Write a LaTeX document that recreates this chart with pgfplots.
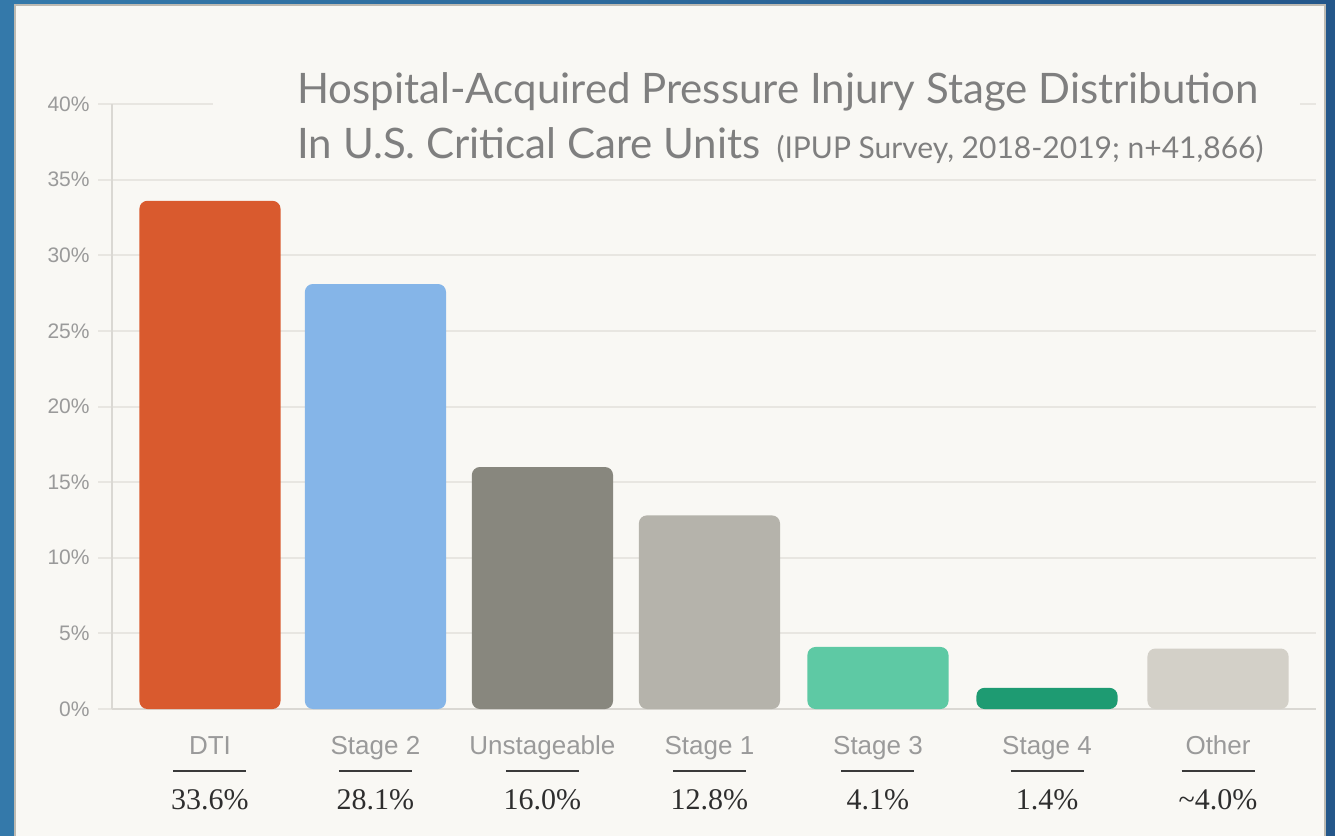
\documentclass[border=0pt]{standalone}
\usepackage{pgfplots}
\pgfplotsset{compat=1.18}
\usepackage{fontspec}
\setmainfont{Liberation Serif}
\newfontfamily\sansf{Liberation Sans}
\newfontfamily\titlef{Lato}
\definecolor{bgl}{HTML}{3479AA}
\definecolor{bgr}{HTML}{24578A}
\definecolor{panelc}{HTML}{F9F8F4}
\definecolor{borderc}{HTML}{BDBAB2}
\definecolor{gridc}{HTML}{E8E6E1}
\definecolor{axisc}{HTML}{DAD8D3}
\definecolor{tickc}{HTML}{9A9A9A}
\definecolor{titlec}{HTML}{7F7F7F}
\definecolor{valc}{HTML}{2E2E2E}
\definecolor{rulec}{HTML}{3A3A3A}
\definecolor{cDTI}{HTML}{D95A2E}
\definecolor{cS2}{HTML}{85B5E8}
\definecolor{cUn}{HTML}{88877E}
\definecolor{cS1}{HTML}{B5B3AB}
\definecolor{cS3}{HTML}{5EC9A4}
\definecolor{cS4}{HTML}{1E9B72}
\definecolor{cOt}{HTML}{D3D0C8}
\newcommand\lab[2]{\makebox[0pt]{\raisebox{-15.5pt}{\sansf\fontsize{13}{13}\selectfont\color{tickc}#1}}\makebox[0pt]{\raisebox{-24.5pt}{\color{rulec}\rule{36.5pt}{1pt}}}\makebox[0pt]{\raisebox{-43pt}{\fontsize{15}{15}\selectfont\color{valc}#2}}}
\begin{document}
\begin{tikzpicture}
\clip (0pt,0pt) rectangle (667.5pt,-418pt);
\shade[left color=bgl, right color=bgr] (0pt,0pt) rectangle (667.5pt,-418pt);
\fill[panelc] (7.5pt,-2.5pt) rectangle (662.5pt,-425pt);
\draw[borderc, line width=1.2pt] (7.5pt,-425pt) -- (7.5pt,-2.5pt) -- (662.5pt,-2.5pt) -- (662.5pt,-425pt);
\begin{axis}[
  at={(56pt,-354.5pt)}, anchor=south west,
  scale only axis, width=602pt, height=302.5pt,
  xmin=-0.583, xmax=6.583, ymin=0, ymax=40,
  ybar, bar width=0.84,
  axis x line*=bottom, axis y line*=left,
  axis line style={draw=axisc, line width=1pt},
  ytick={0,5,...,40}, ymajorgrids, grid style={gridc, line width=1pt},
  tick align=outside, major tick length=7pt,
  ytick style={draw=gridc, line width=1pt},
  xtick={0,0.985,1.979,2.973,3.976,4.982,6}, xtick style={draw=none},
  xticklabels={\lab{DTI}{33.6\%},\lab{Stage 2}{28.1\%},\lab{Unstageable}{16.0\%},\lab{Stage 1}{12.8\%},\lab{Stage 3}{4.1\%},\lab{Stage 4}{1.4\%},\lab{Other}{\textasciitilde4.0\%}},
  xticklabel style={anchor=base, inner sep=0pt},
  yticklabel={\pgfmathprintnumber{\tick}\%},
  yticklabel style={font=\sansf\fontsize{10.5}{12}\selectfont, text=tickc, anchor=east, inner sep=0pt, xshift=-4pt},
  /pgf/number format/assume math mode=true,
  clip=false,
]
\addplot[fill=cDTI, draw=none, rounded corners=4pt, bar shift=0pt] coordinates {(0,33.6)};
\addplot[fill=cS2, draw=none, rounded corners=4pt, bar shift=0pt] coordinates {(0.985,28.1)};
\addplot[fill=cUn, draw=none, rounded corners=4pt, bar shift=0pt] coordinates {(1.979,16.0)};
\addplot[fill=cS1, draw=none, rounded corners=4pt, bar shift=0pt] coordinates {(2.973,12.8)};
\addplot[fill=cS3, draw=none, rounded corners=4pt, bar shift=0pt] coordinates {(3.976,4.1)};
\addplot[fill=cS4, draw=none, rounded corners=4pt, bar shift=0pt] coordinates {(4.982,1.4)};
\addplot[fill=cOt, draw=none, rounded corners=4pt, bar shift=0pt] coordinates {(6,4.0)};
\end{axis}
\fill[panelc] (106.5pt,-30pt) rectangle (650pt,-86pt);
\node[anchor=base west, inner sep=0pt, text=titlec, font=\titlef\fontsize{21}{21}\selectfont] at (148.5pt,-51.5pt) {Hospital-Acquired Pressure Injury Stage Distribution};
\node[anchor=base west, inner sep=0pt, text=titlec, font=\titlef\fontsize{21}{21}\selectfont] at (148.5pt,-79pt) {In U.S. Critical Care Units\hspace{8pt}{\fontsize{15}{15}\selectfont(IPUP Survey, 2018-2019; n+41,866)}};
\end{tikzpicture}
\end{document}
